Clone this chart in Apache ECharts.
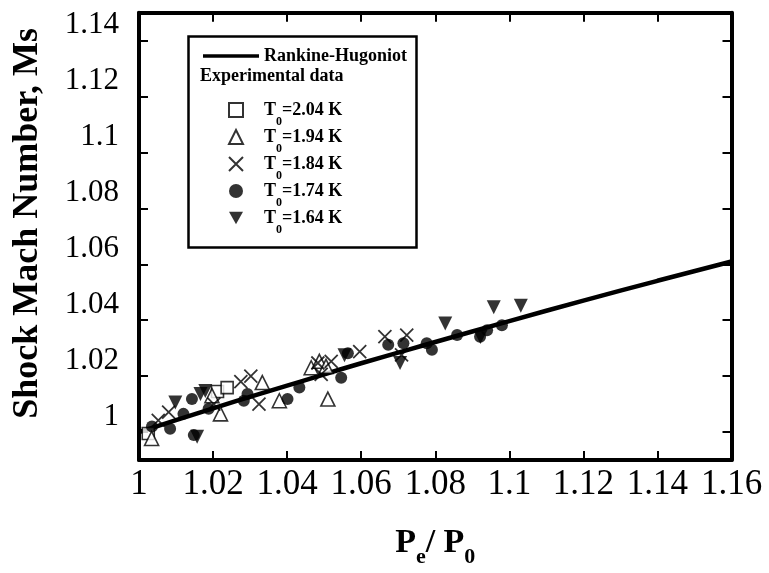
<!DOCTYPE html>
<html><head><meta charset="utf-8">
<script src="https://cdn.jsdelivr.net/npm/echarts@6/dist/echarts.min.js"></script>
<style>html,body{margin:0;padding:0;background:#fff}#c{width:769px;height:573px}</style>
</head><body><div id="c"></div>
<script>
// ---- data ----
const xTickLabels = ['1','1.02','1.04','1.06','1.08','1.1','1.12','1.14','1.16'];
const yTickValues = [1, 1.02, 1.04, 1.06, 1.08, 1.1, 1.12, 1.14];
const yTickLabels = ['1','1.02','1.04','1.06','1.08','1.1','1.12','1.14'];

// Rankine-Hugoniot curve
const rhX = [1.00, 1.02, 1.04, 1.06, 1.08, 1.10, 1.12, 1.14, 1.16];
const rhY = [1.000, 1.0085, 1.0166, 1.0246, 1.0322, 1.0397, 1.0470, 1.0541, 1.0610];

// T0 = 2.04 K (open squares)
const t204X = [1.0025, 1.0212, 1.0238];
const t204Y = [0.9995, 1.0145, 1.0159];
// T0 = 1.94 K (open triangles)
const t194X = [1.0034, 1.0197, 1.0220, 1.0333, 1.0379, 1.0465, 1.0487, 1.0505, 1.0510];
const t194Y = [0.9977, 1.0130, 1.0065, 1.0177, 1.0112, 1.0230, 1.0253, 1.0235, 1.0118];
// T0 = 1.84 K (crosses)
const t184X = [1.0052, 1.0080, 1.0202, 1.0275, 1.0302, 1.0324, 1.0483, 1.0492, 1.0519, 1.0596, 1.0664, 1.0709, 1.0723];
const t184Y = [1.0042, 1.0071, 1.0100, 1.0180, 1.0200, 1.0100, 1.0247, 1.0206, 1.0253, 1.0288, 1.0341, 1.0276, 1.0347];
// T0 = 1.74 K (filled circles)
const t174X = [1.0035, 1.0084, 1.0120, 1.0143, 1.0148, 1.0188, 1.0283, 1.0293, 1.0401, 1.0433, 1.0546, 1.0564, 1.0673, 1.0714, 1.0777, 1.0791, 1.0859, 1.0921, 1.0940, 1.0980];
const t174Y = [1.0020, 1.0012, 1.0065, 1.0118, 0.9989, 1.0083, 1.0112, 1.0136, 1.0118, 1.0159, 1.0194, 1.0282, 1.0312, 1.0318, 1.0318, 1.0294, 1.0347, 1.0341, 1.0364, 1.0382];
// T0 = 1.64 K (filled down triangles)
const t164X = [1.0098, 1.0157, 1.0166, 1.0179, 1.0555, 1.0705, 1.0827, 1.0922, 1.0958, 1.1031];
const t164Y = [1.0106, 0.9983, 1.0136, 1.0147, 1.0275, 1.0247, 1.0388, 1.0340, 1.0446, 1.0452];

const seriesNames = ['T0=2.04 K', 'T0=1.94 K', 'T0=1.84 K', 'T0=1.74 K', 'T0=1.64 K'];

const FONT = '"Liberation Serif", "Times New Roman", serif';
const zip = (a, b) => a.map((v, i) => [v, b[i]]);

const chart = echarts.init(document.getElementById('c'), null, {renderer: 'canvas'});

const openStyle = {color: '#fff', borderColor: '#000', borderWidth: 1.6};
const crossStyle = {color: 'transparent', borderColor: '#000', borderWidth: 1.8};
const filledStyle = {color: '#000', borderColor: '#000', borderWidth: 0};
const DOWN_TRI = 'path://M0,0L10,0L5,9Z';

const legendRich = {
  tf: {fontSize: 18, fontWeight: 'bold', fontFamily: FONT, color: '#000', lineHeight: 20, padding: [0, 0, 0, 16]},
  s:  {fontSize: 12, fontWeight: 'bold', fontFamily: FONT, color: '#000', lineHeight: 12, padding: [24, 0, 0, 0]},
  t:  {fontSize: 18, fontWeight: 'bold', fontFamily: FONT, color: '#000', lineHeight: 20}
};

const option = {
  animation: false,
  backgroundColor: '#fff',
  grid: {left: 139, right: 37.5, top: 12.7, bottom: 106.5, containLabel: false},
  xAxis: [{
    type: 'value', min: 1, max: 1.16, interval: 0.02, position: 'bottom',
    axisLine: {show: true, onZero: false, lineStyle: {color: '#000', width: 4}},
    axisTick: {show: true, inside: true, length: 9, lineStyle: {color: '#000', width: 2}},
    axisLabel: {show: true, color: '#000', fontFamily: FONT, fontSize: 35, margin: 7,
      formatter: v => xTickLabels[Math.round((v - 1) / 0.02)]},
    splitLine: {show: false},
    name: '{p|P}{s|e}{p|/ P}{s|0}', nameLocation: 'middle', nameGap: 66,
    nameTextStyle: {rich: {
      p: {fontSize: 34, fontWeight: 'bold', fontFamily: FONT, color: '#000', lineHeight: 38, verticalAlign: 'top'},
      s: {fontSize: 22, fontWeight: 'bold', fontFamily: FONT, color: '#000', lineHeight: 22, padding: [20, 0, 0, 0], verticalAlign: 'top'}
    }}
  }, {
    type: 'value', min: 1, max: 1.16, interval: 0.02, position: 'top',
    axisLine: {show: true, onZero: false, lineStyle: {color: '#000', width: 4}},
    axisTick: {show: true, inside: true, length: 9, lineStyle: {color: '#000', width: 2}},
    axisLabel: {show: false}, splitLine: {show: false}
  }],
  yAxis: [{
    type: 'value', min: 0.99, max: 1.15, position: 'left',
    axisLine: {show: true, onZero: false, lineStyle: {color: '#000', width: 4}},
    axisTick: {show: true, inside: true, length: 9, customValues: yTickValues, lineStyle: {color: '#000', width: 2}},
    axisLabel: {show: true, color: '#000', fontFamily: FONT, fontSize: 31, margin: 20, verticalAlign: 'bottom',
      customValues: yTickValues,
      formatter: v => yTickLabels[Math.round((v - 1) / 0.02)]},
    splitLine: {show: false},
    name: 'Shock Mach Number, Ms', nameLocation: 'middle', nameGap: 93, nameRotate: 90,
    nameTextStyle: {fontSize: 36, fontWeight: 'bold', fontFamily: FONT, color: '#000', padding: [0, 0, 0, 26]}
  }, {
    type: 'value', min: 0.99, max: 1.15, position: 'right',
    axisLine: {show: true, onZero: false, lineStyle: {color: '#000', width: 4}},
    axisTick: {show: true, inside: true, length: 9, customValues: yTickValues, lineStyle: {color: '#000', width: 2}},
    axisLabel: {show: false}, splitLine: {show: false}
  }],
  legend: [{
    data: [{name: 'Rankine-Hugoniot', icon: 'rect'}],
    left: 198, top: 42, orient: 'vertical',
    itemWidth: 56, itemHeight: 3.5,
    textStyle: {fontSize: 18, fontWeight: 'bold', fontFamily: FONT, color: '#000'},
    selectedMode: false
  }, {
    data: [
      {name: seriesNames[0]}, {name: seriesNames[1]}, {name: seriesNames[2]},
      {name: seriesNames[3]}, {name: seriesNames[4], icon: DOWN_TRI}
    ],
    left: 223, top: 87, orient: 'vertical',
    itemWidth: 14, itemHeight: 14, itemGap: -9,
    formatter: n => '{tf|T}{s|0}{t|' + n.slice(2) + '}',
    textStyle: {fontSize: 18, fontWeight: 'bold', fontFamily: FONT, color: '#000', rich: legendRich},
    selectedMode: false
  }],
  graphic: [{
    type: 'rect', left: 186, top: 34, z: 0,
    shape: {width: 228, height: 211},
    style: {fill: 'none', stroke: '#000', lineWidth: 2.5}
  }, {
    type: 'text', left: 200, top: 67, z: 10,
    style: {text: 'Experimental data', font: 'bold 18px ' + FONT, fill: '#000'}
  }],
  series: [{
    name: 'Rankine-Hugoniot', type: 'line', data: zip(rhX, rhY), smooth: true,
    symbol: 'none', showSymbol: false, lineStyle: {color: '#000', width: 4.5}, itemStyle: {color: '#000'}, z: 2
  }, {
    name: seriesNames[0], type: 'scatter', data: zip(t204X, t204Y), symbol: 'rect', symbolSize: 12, itemStyle: openStyle, z: 3
  }, {
    name: seriesNames[1], type: 'scatter', data: zip(t194X, t194Y), symbol: 'triangle', symbolSize: 14, itemStyle: openStyle, z: 3
  }, {
    name: seriesNames[2], type: 'scatter', data: zip(t184X, t184Y), symbol: 'path://M0,0L10,10M10,0L0,10', symbolSize: 13, itemStyle: crossStyle, z: 3
  }, {
    name: seriesNames[3], type: 'scatter', data: zip(t174X, t174Y), symbol: 'circle', symbolSize: 12, itemStyle: filledStyle, z: 3
  }, {
    name: seriesNames[4], type: 'scatter', data: zip(t164X, t164Y), symbol: 'triangle', symbolRotate: 180, symbolSize: 14, itemStyle: filledStyle, z: 3
  }]
};
chart.setOption(option);
</script>
</body></html>
